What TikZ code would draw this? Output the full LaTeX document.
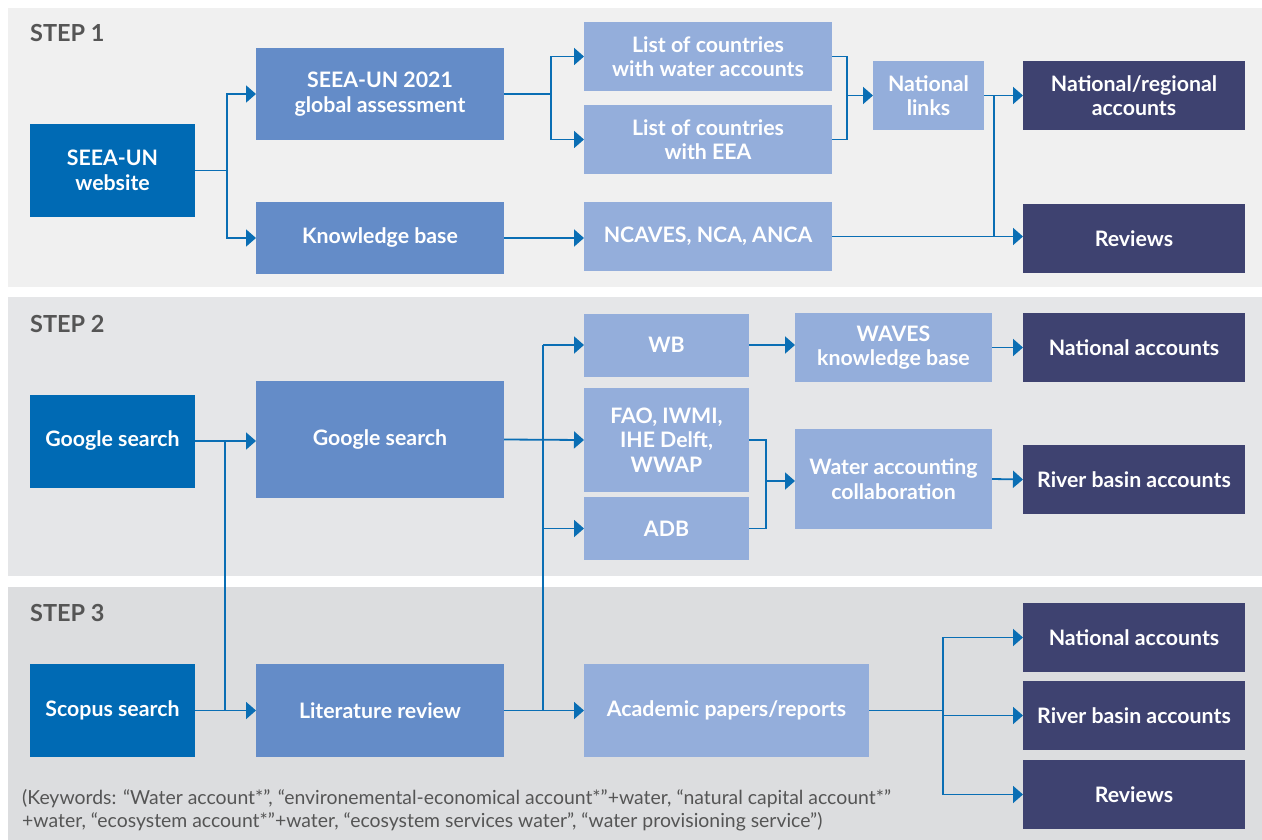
\documentclass[tikz,border=0pt]{standalone}
\usepackage{fontspec}
\setmainfont{Lato}
\usetikzlibrary{arrows.meta}
\definecolor{dkblue}{RGB}{0,106,180}
\definecolor{mdblue}{RGB}{100,140,200}
\definecolor{ltblue}{RGB}{148,174,219}
\definecolor{navy}{RGB}{62,66,112}
\definecolor{conncol}{RGB}{10,110,180}
\definecolor{labgray}{RGB}{85,85,85}
\definecolor{panelA}{RGB}{240,240,240}
\definecolor{panelB}{RGB}{229,230,232}
\definecolor{panelC}{RGB}{220,221,223}
\tikzset{
  x=1pt,y=-1pt,
  boxbase/.style={inner sep=0pt, outer sep=0pt, text=white, align=center,
    font=\fontsize{21.3}{24.5}\selectfont\bfseries},
  dkbox/.style={boxbase, fill=dkblue},
  mdbox/.style={boxbase, fill=mdblue},
  ltbox/.style={boxbase, fill=ltblue},
  nvbox/.style={boxbase, fill=navy},
  conn/.style={draw=conncol, line width=1.8pt},
  arr/.style={conn, -{Triangle[length=10pt,width=17pt]}},
  steplabel/.style={anchor=west, text=labgray, inner sep=0pt, font=\fontsize{23.5}{26}\selectfont\bfseries},
}
\begin{document}
\begin{tikzpicture}
\useasboundingbox (0,0) rectangle (1262,840);
\fill[white] (0,0) rectangle (1262,840);
% panels
\fill[panelA] (8,8) rectangle (1262,287);
\fill[panelB] (8,297) rectangle (1262,576);
\fill[panelC] (8,587) rectangle (1262,840);
\node[steplabel] (s1) at (30,33.5) {STEP 1};
\node[steplabel] (s2) at (30,324.5) {STEP 2};
\node[steplabel] (s3) at (30,613.5) {STEP 3};
% ---------- STEP 1 ----------
\node[dkbox, minimum width=165pt, minimum height=93pt] (web) at (112.5,170.5) {SEEA-UN\\website};
\node[mdbox, minimum width=248pt, minimum height=92pt] (g21) at (380,94) {SEEA-UN 2021\\global assessment};
\node[mdbox, minimum width=248pt, minimum height=71pt] (kb) at (380,238) {Knowledge base};
\node[ltbox, minimum width=248pt, minimum height=69pt] (lw) at (708,56.5) {List of countries\\with water accounts};
\node[ltbox, minimum width=248pt, minimum height=69pt] (le) at (708,139.5) {List of countries\\with EEA};
\node[ltbox, minimum width=248pt, minimum height=69pt] (nc) at (708,236.5) {NCAVES, NCA, ANCA};
\node[ltbox, minimum width=111pt, minimum height=69pt] (nl) at (928.5,95.5) {National\\links};
\node[nvbox, minimum width=222pt, minimum height=69pt] (nra) at (1134,95.5) {National/regional\\accounts};
\node[nvbox, minimum width=222pt, minimum height=69pt] (rv1) at (1134,238.5) {Reviews};
\coordinate (j1) at (227,170.5);
\coordinate (j2) at (551,94);
\coordinate (j3) at (847,95.5);
\coordinate (j4) at (994,95.5);
\draw[conn] (web.east) -- (j1);
\draw[arr] (j1) |- (g21.west);
\draw[arr] (j1) |- (kb.west);
\draw[conn] (g21.east) -- (j2);
\draw[arr] (j2) |- (lw.west);
\draw[arr] (j2) |- (le.west);
\draw[arr] (kb.east) -- (kb.east -| nc.west);
\draw[conn] (lw.east) -| (j3);
\draw[conn] (le.east) -| (j3);
\draw[arr] (j3) -- (nl.west);
\draw[arr] (nl.east) -- (nra.west);
\draw[arr] (nc.east) -- (nc.east -| rv1.west);
\draw[conn] (j4) -- (j4 |- nc.east);
% ---------- STEP 2 ----------
\node[dkbox, minimum width=165pt, minimum height=93pt] (gs1) at (112.5,441) {Google search};
\node[mdbox, minimum width=248pt, minimum height=117pt] (gs2) at (380,439.5) {Google search};
\node[ltbox, minimum width=165pt, minimum height=63pt] (wb) at (666.5,345) {WB};
\node[ltbox, minimum width=165pt, minimum height=104pt] (fao) at (666.5,440) {FAO, IWMI,\\IHE Delft,\\WWAP};
\node[ltbox, minimum width=165pt, minimum height=63pt] (adb) at (666.5,528.5) {ADB};
\node[ltbox, minimum width=197pt, minimum height=69pt] (waves) at (893.5,347.5) {WAVES\\knowledge base};
\node[ltbox, minimum width=197pt, minimum height=100pt] (wac) at (893.5,479) {Water accounting\\collaboration};
\node[nvbox, minimum width=222pt, minimum height=69pt] (na2) at (1134,347.5) {National accounts};
\node[nvbox, minimum width=222pt, minimum height=69pt] (rb2) at (1134,479.5) {River basin accounts};
% ---------- STEP 3 ----------
\node[dkbox, minimum width=165pt, minimum height=93pt] (sc) at (112.5,710.5) {Scopus search};
\node[mdbox, minimum width=248pt, minimum height=93pt] (lr) at (380,710.5) {Literature review};
\node[ltbox, minimum width=285pt, minimum height=93pt] (ap) at (726.5,710.5) {Academic papers/reports};
\node[nvbox, minimum width=222pt, minimum height=69pt] (na3) at (1134,637.5) {National accounts};
\node[nvbox, minimum width=222pt, minimum height=69pt] (rb3) at (1134,715.5) {River basin accounts};
\node[nvbox, minimum width=222pt, minimum height=69pt] (rv3) at (1134,794.5) {Reviews};
% step 2/3 connectors
\coordinate (k1) at (225,441);
\coordinate (k2) at (543,710.5);
\coordinate (k3) at (766,481);
\coordinate (k4) at (943,710.5);
\draw[arr] (gs1.east) -- (gs1.east -| gs2.west);
\draw[conn] (k1) -- (k1 |- sc.east);
\draw[arr] (sc.east) -- (lr.west);
\draw[arr] (lr.east) -- (ap.west);
\draw[conn] (k2) -- (k2 |- wb.west);
\draw[arr] (k2 |- wb.west) -- (wb.west);
\draw[arr] (gs2.east) -- (fao.west);
\draw[arr] (k2 |- adb.west) -- (adb.west);
\draw[arr] (wb.east) -- (wb.east -| waves.west);
\draw[conn] (fao.east) -| (k3);
\draw[conn] (adb.east) -| (k3);
\draw[arr] (k3) -- (k3 -| wac.west);
\draw[arr] (waves.east) -- (na2.west);
\draw[arr] (wac.east) -- (rb2.west);
\draw[conn] (ap.east) -- (k4);
\draw[arr] (k4) |- (na3.west);
\draw[arr] (k4) |- (rb3.west);
\draw[arr] (k4) |- (rv3.west);
% footnote
\node[anchor=north west, inner sep=0pt, text=labgray, align=left,
  font=\fontsize{19.4}{23}\selectfont] (kw) at (22,789)
  {(Keywords: “Water account*”, “environemental-economical account*”+water, “natural capital account*”\\+water, “ecosystem account*”+water, “ecosystem services water”, “water provisioning service”)};
\end{tikzpicture}
\end{document}
